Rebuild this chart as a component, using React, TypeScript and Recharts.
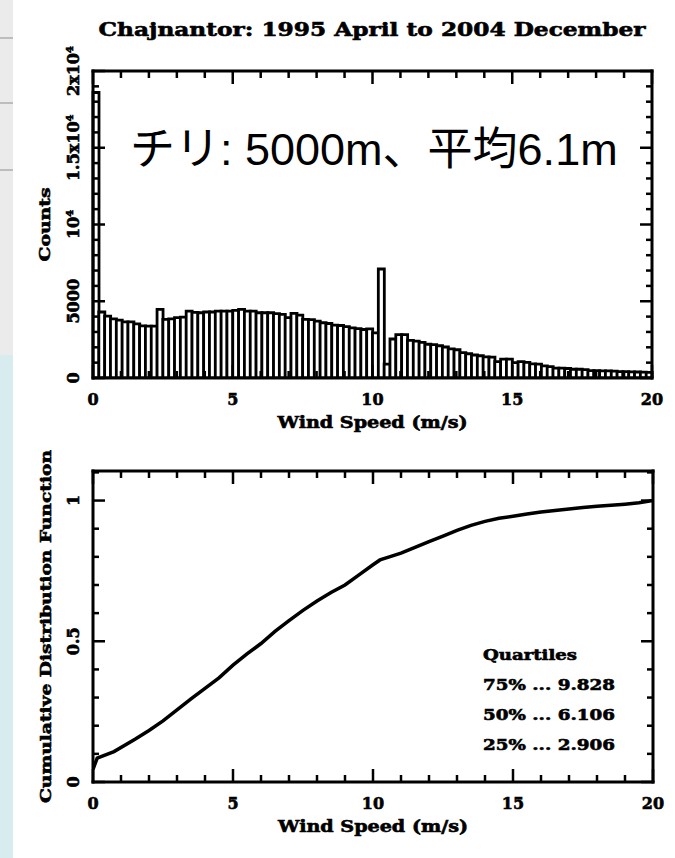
import React from "react";
import { Bar, BarChart, Label, Line, LineChart, XAxis, YAxis } from "recharts";

const INK = "#000";
const SERIF = "'DejaVu Serif', 'Liberation Serif', serif";
const SANS_JP = "'Liberation Sans', Arial, 'Noto Sans CJK JP', sans-serif";
// the plot's own lettering is a heavy stroked font, so thicken the bold serif a little
const HEAVY = { fontFamily: SERIF, fontWeight: "bold", fill: INK, stroke: INK, strokeWidth: 0.6 } as const;

const TITLE = "Chajnantor: 1995 April to 2004 December";
const NOTE = "チリ: 5000m、平均6.1m";

// histogram, 96 equal bins over 0..20 m/s
const BIN_COUNT = 96;
const COUNTS = [
  18600, 4300, 4030, 3850, 3770, 3660, 3660, 3530, 3400, 3380, 3380, 4470,
  3820, 3850, 3930, 3970, 4360, 4280, 4250, 4300, 4300, 4360, 4360, 4360,
  4400, 4470, 4360, 4360, 4250, 4250, 4250, 4200, 4140, 3930, 4210, 4100,
  3820, 3800, 3700, 3600, 3550, 3450, 3420, 3350, 3270, 3220, 3160, 3200,
  2940, 7100, 900, 2540, 2830, 2830, 2450, 2400, 2320, 2200, 2170, 2100,
  2020, 1900, 1840, 1650, 1580, 1500, 1450, 1380, 1360, 1070, 1230, 1230,
  1000, 1070, 1020, 920, 900, 790, 740, 640, 640, 620, 570, 570,
  550, 480, 480, 470, 460, 450, 420, 410, 400, 390, 380, 370,
];

// cumulative distribution
const CDF_SPEED = [
  0, 0.15, 0.75, 1.5, 2, 2.5, 3, 3.5, 4, 4.5, 5, 5.5, 6, 6.5, 7, 7.5, 8, 8.5, 9,
  9.5, 10, 10.25, 10.5, 11, 11.5, 12, 12.5, 13, 13.5, 14, 14.5, 15, 15.5, 16,
  16.5, 17, 17.5, 18, 18.5, 19, 19.5, 20,
];
const CDF_VALUE = [
  0.045, 0.085, 0.108, 0.152, 0.183, 0.217, 0.256, 0.295, 0.333, 0.37, 0.415,
  0.455, 0.492, 0.535, 0.573, 0.61, 0.643, 0.673, 0.7, 0.736, 0.772, 0.789,
  0.797, 0.813, 0.834, 0.854, 0.874, 0.894, 0.912, 0.926, 0.937, 0.944, 0.952,
  0.959, 0.965, 0.97, 0.975, 0.98, 0.983, 0.987, 0.992, 1.0,
];

const QUARTILES = [
  ["75%", "9.828"],
  ["50%", "6.106"],
  ["25%", "2.906"],
];

const SPEED_TICKS = [0, 1, 2, 3, 4, 5, 6, 7, 8, 9, 10, 11, 12, 13, 14, 15, 16, 17, 18, 19, 20];
const SPEED_MAJOR = [0, 5, 10, 15, 20];
const COUNT_TICKS = [
  0, 1000, 2000, 3000, 4000, 5000, 6000, 7000, 8000, 9000, 10000, 11000, 12000,
  13000, 14000, 15000, 16000, 17000, 18000, 19000, 20000,
];
const COUNT_LABELS: Record<string, string[]> = {
  "0": ["0"],
  "5000": ["5000"],
  "10000": ["10", "4"],
  "15000": ["1.5x10", "4"],
  "20000": ["2x10", "4"],
};
const CDF_TICKS = [0, 0.1, 0.2, 0.3, 0.4, 0.5, 0.6, 0.7, 0.8, 0.9, 1, 1.1];
const CDF_LABELS: Record<string, string[]> = { "0": ["0"], "0.5": ["0.5"], "1": ["1"] };

const histRows = COUNTS.map((count, i) => ({ bin: i, mid: ((i + 0.5) * 20) / BIN_COUNT, count }));
const cdfRows = CDF_SPEED.map((x, i) => ({ x, p: CDF_VALUE[i] }));

const FRAME = { stroke: INK, strokeWidth: 3, strokeLinecap: "square" as const };
const TICK_W = 2.5;

function speedTick(side: "bottom" | "top") {
  return (p: any) => {
    const v = p.payload.value;
    const major = SPEED_MAJOR.includes(v);
    const len = major ? 13 : 7;
    const dir = side === "bottom" ? -1 : 1;
    return (
      <g>
        <line x1={p.x} x2={p.x} y1={p.y} y2={p.y + dir * len} stroke={INK} strokeWidth={TICK_W} />
        {side === "bottom" && major && (
          <text x={p.x} y={p.y + 27} textAnchor="middle" fontSize={16} {...HEAVY}>
            {v}
          </text>
        )}
      </g>
    );
  };
}

function leftTick(labels: Record<string, string[]>) {
  return (p: any) => {
    const lab = labels[String(p.payload.value)];
    const len = lab ? 12 : 6;
    return (
      <g>
        <line x1={p.x} x2={p.x + len} y1={p.y} y2={p.y} stroke={INK} strokeWidth={TICK_W} />
        {lab && (
          <text
            transform={`translate(${p.x - 14},${p.y}) rotate(-90)`}
            textAnchor="middle"
            fontSize={16}
            {...HEAVY}
          >
            {lab[0]}
            {lab[1] && (
              <tspan dy={-6} fontSize={10}>
                {lab[1]}
              </tspan>
            )}
          </text>
        )}
      </g>
    );
  };
}

function rightTick(labels: Record<string, string[]>) {
  return (p: any) => {
    const len = labels[String(p.payload.value)] ? 12 : 6;
    return <line x1={p.x} x2={p.x - len} y1={p.y} y2={p.y} stroke={INK} strokeWidth={TICK_W} />;
  };
}

function xTitle(text: string) {
  return (p: any) => {
    const vb = p.viewBox || { x: 93, y: 0, width: 560 };
    return (
      <text
        x={vb.x + vb.width / 2}
        y={vb.y + 50}
        textAnchor="middle"
        textLength={190}
        lengthAdjust="spacingAndGlyphs"
        fontSize={16}
        {...HEAVY}
      >
        {text}
      </text>
    );
  };
}

function yTitle(text: string, length: number, x: number) {
  return (p: any) => {
    const vb = p.viewBox || { y: 0, height: 0 };
    return (
      <text
        transform={`translate(${x},${vb.y + vb.height / 2}) rotate(-90)`}
        textAnchor="middle"
        textLength={length}
        lengthAdjust="spacingAndGlyphs"
        fontSize={15}
        {...HEAVY}
      >
        {text}
      </text>
    );
  };
}

function HistogramChart() {
  return (
    <BarChart
      width={675}
      height={440}
      data={histRows}
      margin={{ top: 70, right: 22, bottom: 2, left: 0 }}
      barCategoryGap={0}
      barGap={0}
    >
      <XAxis
        xAxisId="num"
        dataKey="mid"
        type="number"
        domain={[0, 20]}
        allowDataOverflow
        ticks={SPEED_TICKS}
        interval={0}
        height={60}
        tickSize={0}
        tickMargin={0}
        tickLine={false}
        axisLine={FRAME}
        tick={speedTick("bottom")}
      >
        <Label value="Wind Speed (m/s)" content={xTitle("Wind Speed (m/s)")} />
      </XAxis>
      <XAxis xAxisId="bin" dataKey="bin" type="category" orientation="top" height={0} hide />
      <XAxis
        xAxisId="top"
        orientation="top"
        dataKey="mid"
        type="number"
        domain={[0, 20]}
        allowDataOverflow
        ticks={SPEED_TICKS}
        interval={0}
        height={1}
        tickSize={0}
        tickMargin={0}
        tickLine={false}
        axisLine={FRAME}
        tick={speedTick("top")}
      />
      <YAxis
        yAxisId="c"
        type="number"
        domain={[0, 20000]}
        allowDataOverflow
        ticks={COUNT_TICKS}
        interval={0}
        width={93}
        tickSize={0}
        tickMargin={0}
        tickLine={false}
        axisLine={FRAME}
        tick={leftTick(COUNT_LABELS)}
      >
        <Label value="Counts" content={yTitle("Counts", 74, 50)} />
      </YAxis>
      <YAxis
        yAxisId="cr"
        orientation="right"
        type="number"
        domain={[0, 20000]}
        allowDataOverflow
        ticks={COUNT_TICKS}
        interval={0}
        width={1}
        tickSize={0}
        tickMargin={0}
        tickLine={false}
        axisLine={FRAME}
        tick={rightTick(COUNT_LABELS)}
      />
      <Bar
        xAxisId="bin"
        yAxisId="c"
        dataKey="count"
        fill="#fff"
        stroke={INK}
        strokeWidth={2.8}
        isAnimationActive={false}
      />
    </BarChart>
  );
}

function CdfChart() {
  return (
    <LineChart width={675} height={418} data={cdfRows} margin={{ top: 30, right: 21, bottom: 16, left: 0 }}>
      <XAxis
        xAxisId="num"
        dataKey="x"
        type="number"
        domain={[0, 20]}
        allowDataOverflow
        ticks={SPEED_TICKS}
        interval={0}
        height={60}
        tickSize={0}
        tickMargin={0}
        tickLine={false}
        axisLine={FRAME}
        tick={speedTick("bottom")}
      >
        <Label value="Wind Speed (m/s)" content={xTitle("Wind Speed (m/s)")} />
      </XAxis>
      <XAxis
        xAxisId="top"
        orientation="top"
        dataKey="x"
        type="number"
        domain={[0, 20]}
        allowDataOverflow
        ticks={SPEED_TICKS}
        interval={0}
        height={1}
        tickSize={0}
        tickMargin={0}
        tickLine={false}
        axisLine={FRAME}
        tick={speedTick("top")}
      />
      <YAxis
        yAxisId="p"
        type="number"
        domain={[0, 1.105]}
        allowDataOverflow
        ticks={CDF_TICKS}
        interval={0}
        width={93}
        tickSize={0}
        tickMargin={0}
        tickLine={false}
        axisLine={FRAME}
        tick={leftTick(CDF_LABELS)}
      >
        <Label value="Cumulative Distribution Function" content={yTitle("Cumulative Distribution Function", 353, 51)} />
      </YAxis>
      <YAxis
        yAxisId="pr"
        orientation="right"
        type="number"
        domain={[0, 1.105]}
        allowDataOverflow
        ticks={CDF_TICKS}
        interval={0}
        width={1}
        tickSize={0}
        tickMargin={0}
        tickLine={false}
        axisLine={FRAME}
        tick={rightTick(CDF_LABELS)}
      />
      <Line
        xAxisId="num"
        yAxisId="p"
        dataKey="p"
        type="linear"
        stroke={INK}
        strokeWidth={3.5}
        dot={false}
        isAnimationActive={false}
      />
    </LineChart>
  );
}

export default function App() {
  const strip = (top: number, height: number, background: string) => (
    <div style={{ position: "absolute", left: 0, top, width: 13, height, background }} />
  );
  return (
    <div style={{ position: "absolute", left: 0, top: 0, width: 675, height: 858, background: "#fff", overflow: "hidden" }}>
      {strip(0, 355, "#ebebec")}
      {strip(37, 2, "#bdbdbd")}
      {strip(102, 2, "#bdbdbd")}
      {strip(169, 2, "#bdbdbd")}
      {strip(355, 503, "#d8ecef")}
      <div style={{ position: "absolute", left: 0, top: 0 }}>
        <HistogramChart />
      </div>
      <div style={{ position: "absolute", left: 0, top: 440 }}>
        <CdfChart />
      </div>
      <svg width={675} height={858} style={{ position: "absolute", left: 0, top: 0, pointerEvents: "none" }}>
        <text x={372} y={36} textAnchor="middle" textLength={547} lengthAdjust="spacingAndGlyphs" fontSize={19} {...HEAVY}>
          {TITLE}
        </text>
        <text x={130} y={165} fontFamily={SANS_JP} fontSize={45} fill={INK}>
          {NOTE}
        </text>
        <g fontSize={15} {...HEAVY}>
          <text x={483} y={660} textLength={94} lengthAdjust="spacingAndGlyphs">
            Quartiles
          </text>
          {QUARTILES.map(([q, v], i) => (
            <text key={q} x={483} y={690 + 30 * i} textLength={132} lengthAdjust="spacingAndGlyphs">
              {`${q} ... ${v}`}
            </text>
          ))}
        </g>
      </svg>
    </div>
  );
}
